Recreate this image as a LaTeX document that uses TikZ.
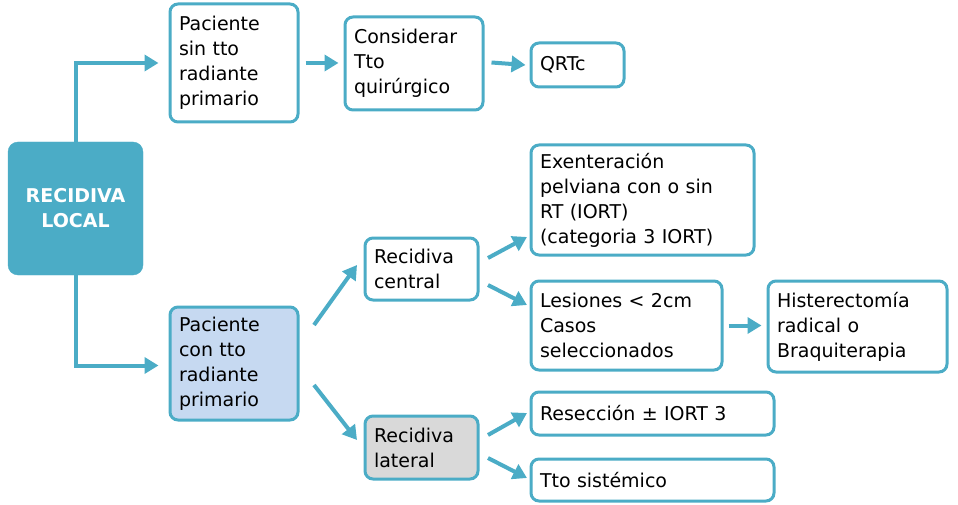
\documentclass[tikz,border=0pt]{standalone}
\usepackage{fontspec}
\setmainfont{DejaVu Sans}
\usetikzlibrary{arrows.meta}
\definecolor{teal}{HTML}{4BACC6}
\definecolor{lblue}{HTML}{C6D9F1}
\definecolor{lgray}{HTML}{D9D9D9}
\begin{document}
\begin{tikzpicture}[x=1pt,y=-1pt,
 box/.style={draw=teal,line width=3pt,rounded corners=8pt,fill=white,align=left,inner sep=0pt,
   font=\fontsize{19}{25}\selectfont},
 arr/.style={draw=teal,line width=4pt,-{Triangle[length=14pt,width=16pt]}}]
\useasboundingbox (0,0) rectangle (958,505);
\newcommand{\bx}[6]{\node[box,#6,minimum width=#3-#1,minimum height=#4-#2,text width=#3-#1-18pt] (#5) at ({(#1+#3)/2},{(#2+#4)/2})}
\node[draw=teal,fill=teal,rounded corners=10pt,minimum width=135pt,minimum height=133pt,text=white,align=center,font=\fontsize{19}{25}\selectfont\bfseries] (rl) at (75.5,208.5) {RECIDIVA\\LOCAL};
\bx{170}{4}{298}{122}{ps}{}{Paciente\\sin tto\\radiante\\primario};
\bx{345}{17}{483}{110}{cq}{}{Considerar\\Tto\\quirúrgico};
\bx{531}{43}{624}{87}{qr}{}{QRTc};
\bx{531}{145}{754}{255}{ex}{}{Exenteración\\pelviana con o sin\\RT (IORT)\\(categoria 3 IORT)};
\bx{365}{238}{478}{300}{rc}{}{Recidiva\\central};
\bx{170}{307}{298}{420}{pc}{fill=lblue}{Paciente\\con tto\\radiante\\primario};
\bx{531}{281}{722}{370}{le}{}{Lesiones < 2cm\\Casos\\seleccionados};
\bx{768}{281}{947}{372}{hi}{}{Histerectomía\\radical o\\Braquiterapia};
\bx{365}{416}{478}{479}{rla}{fill=lgray}{Recidiva\\lateral};
\bx{531}{392}{774}{435}{re}{}{Resección ± IORT 3};
\bx{531}{459}{774}{501}{ts}{}{Tto sistémico};
\draw[arr] (rl.north) |- ([xshift=-10pt]ps.west);
\draw[arr] (rl.south) |- ([xshift=-10pt,yshift=-2pt]pc.west);
\draw[arr] ([xshift=6pt]ps.east) -- ([xshift=-5pt]cq.west|-ps.east);
\draw[arr] ([xshift=7pt,yshift=1pt]cq.east) -- ([xshift=-4pt]qr.west);
\draw[arr] ([xshift=5pt]le.east) -- ([xshift=-5pt]hi.west|-le.east);
\draw[arr] (314,325) -- (357,265);
\draw[arr] (314,385) -- (357,440);
\draw[arr] (488,258) -- (527,237);
\draw[arr] (488,285) -- (527,305);
\draw[arr] (488,435) -- (527,413);
\draw[arr] (488,458) -- (527,478);
\end{tikzpicture}
\end{document}
